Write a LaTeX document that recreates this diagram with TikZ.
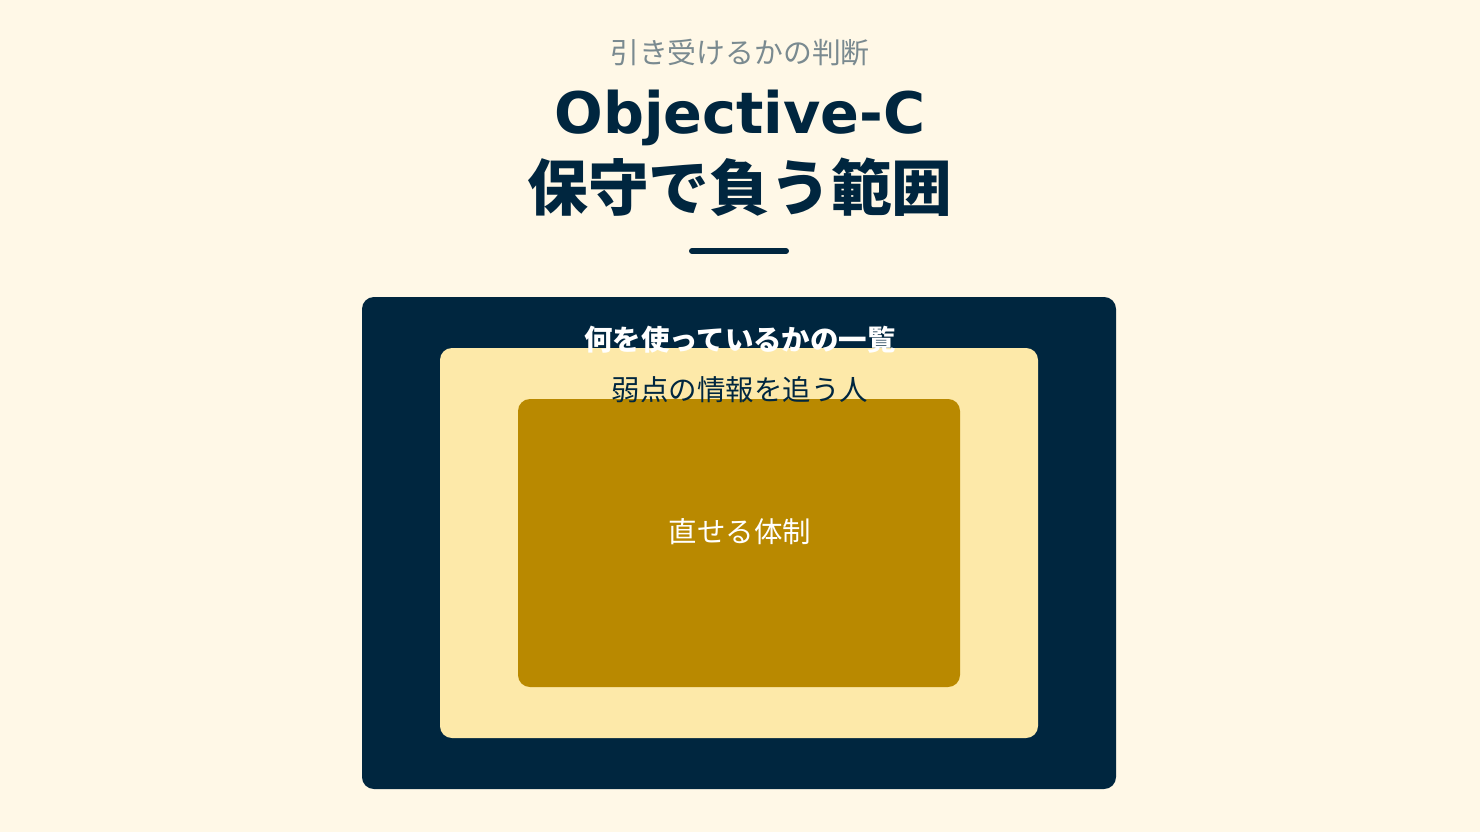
\documentclass[tikz,border=0pt]{standalone}
\usepackage{fontspec}
\setmainfont{Noto Sans CJK JP}
\newfontfamily\latinfont{DejaVu Sans}
\usepackage{xcolor}
\usetikzlibrary{positioning}
\definecolor{paper}{HTML}{FFF8E7}
\definecolor{navy}{HTML}{00263F}
\definecolor{cream}{HTML}{FDE9A9}
\definecolor{gold}{HTML}{B98900}
\definecolor{greytext}{HTML}{7A8A90}

\begin{document}
\begin{tikzpicture}[x=0.02cm, y=-0.02cm,
    layer/.style={rounded corners=6.8pt},
    lbl/.style={font=\fontsize{16.2pt}{19pt}\selectfont, inner sep=0pt}]
    % page
    \fill[paper] (0,0) rectangle (1480,832);
    \useasboundingbox (0,0) rectangle (1480,832);

    % Heading
    \node[text=greytext, font=\fontsize{16.4pt}{20pt}\selectfont] (kicker) at (740,53) {引き受けるかの判断};
    \node[text=navy, inner sep=0pt, font=\latinfont\bfseries\fontsize{32.6pt}{38pt}\selectfont] (title1) at (740,118) {Objective-C};
    \node[text=navy, font=\bfseries\fontsize{34.6pt}{40pt}\selectfont] (title2) at (740,187) {保守で負う範囲};
    \draw[navy, line width=3.4pt, line cap=round] (692,251) -- (786,251);

    % Nested layers
    \fill[navy, layer] (362,297) rectangle (1116,789);
    \fill[cream, layer] (440,348) rectangle (1038,738);
    \fill[gold, layer] (518,399) rectangle (960,687);

    \node[lbl, text=white, font=\bfseries\fontsize{16.2pt}{19pt}\selectfont] (outerlbl) at (740,340) {何を使っているかの一覧};
    \node[lbl, text=navy] (midlbl) at (740,390) {弱点の情報を追う人};
    \node[lbl, text=white] (innerlbl) at (740,532) {直せる体制};
\end{tikzpicture}
\end{document}
